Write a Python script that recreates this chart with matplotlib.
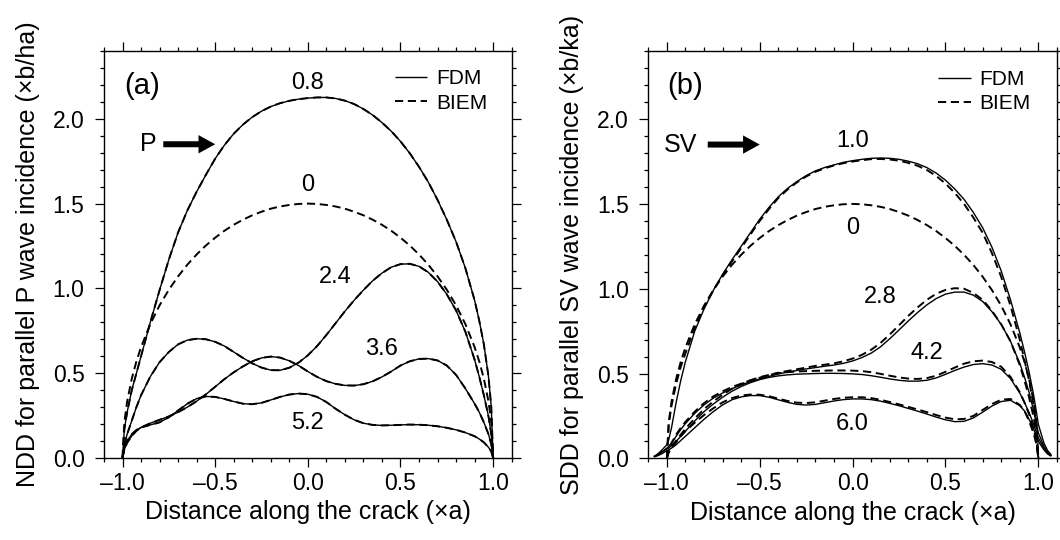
"""Crack opening displacement: FDM vs BIEM for parallel P and SV incidence."""

import matplotlib

matplotlib.use("Agg")
import matplotlib.pyplot as plt
from matplotlib.ticker import MultipleLocator, FuncFormatter

plt.rcParams["font.family"] = ["Liberation Sans", "DejaVu Sans"]

# --- data -------------------------------------------------------------------
X_GRID = [-1.0, -0.99, -0.975, -0.95, -0.925,
          -0.9, -0.85, -0.8, -0.75, -0.7, -0.65, -0.6, -0.55, -0.5,
          -0.45, -0.4, -0.35, -0.3, -0.25, -0.2, -0.15, -0.1, -0.05,
          0.0, 0.05, 0.1, 0.15, 0.2, 0.25, 0.3, 0.35, 0.4,
          0.45, 0.5, 0.55, 0.6, 0.65, 0.7, 0.75, 0.8, 0.85,
          0.9, 0.925, 0.95, 0.975, 0.99, 1.0]
# FDM in (b) smears a little past the crack tips
X_FDM = [-1.07, -1.05, -1.03] + X_GRID + [1.03, 1.05, 1.07]

# static solution (label "0"), same in both panels, BIEM only
STATIC = [0.0, 0.212, 0.333, 0.468, 0.570,
          0.654, 0.790, 0.900, 0.992, 1.071, 1.140, 1.200, 1.253, 1.299,
          1.340, 1.375, 1.405, 1.431, 1.452, 1.470, 1.483, 1.492, 1.498,
          1.500, 1.498, 1.492, 1.483, 1.470, 1.452, 1.431, 1.405, 1.375,
          1.340, 1.299, 1.253, 1.200, 1.140, 1.071, 0.992, 0.900, 0.790,
          0.654, 0.570, 0.468, 0.333, 0.212, 0.0]

# panel (a): FDM and BIEM coincide at this scale
A_08 = [0.0, 0.17, 0.27, 0.40, 0.50,
        0.60, 0.80, 0.99, 1.17, 1.33, 1.46, 1.57, 1.67, 1.765,
        1.845, 1.912, 1.966, 2.01, 2.045, 2.072, 2.092, 2.106, 2.116,
        2.122, 2.126, 2.126, 2.12, 2.107, 2.087, 2.058, 2.022, 1.978,
        1.927, 1.867, 1.797, 1.717, 1.627, 1.522, 1.405, 1.275, 1.12,
        0.93, 0.81, 0.67, 0.48, 0.30, 0.0]
A_24 = [0.0, 0.08, 0.14, 0.22, 0.30,
        0.37, 0.48, 0.565, 0.625, 0.67, 0.695, 0.703, 0.70, 0.685,
        0.66, 0.625, 0.59, 0.558, 0.533, 0.518, 0.517, 0.532, 0.562,
        0.605, 0.66, 0.725, 0.795, 0.865, 0.93, 0.99, 1.045, 1.09,
        1.125, 1.143, 1.145, 1.13, 1.095, 1.04, 0.965, 0.87, 0.745,
        0.58, 0.48, 0.37, 0.245, 0.14, 0.0]
A_36 = [0.0, 0.05, 0.09, 0.13, 0.16,
        0.18, 0.205, 0.225, 0.245, 0.27, 0.30, 0.335, 0.375, 0.42,
        0.465, 0.505, 0.54, 0.57, 0.59, 0.598, 0.592, 0.573, 0.545,
        0.51, 0.478, 0.453, 0.437, 0.428, 0.427, 0.435, 0.452, 0.478,
        0.51, 0.545, 0.57, 0.584, 0.586, 0.575, 0.545, 0.49, 0.41,
        0.32, 0.27, 0.21, 0.14, 0.08, 0.0]
A_52 = [0.0, 0.06, 0.10, 0.14, 0.165,
        0.18, 0.195, 0.21, 0.24, 0.28, 0.32, 0.35, 0.363, 0.36,
        0.348, 0.333, 0.32, 0.317, 0.325, 0.342, 0.36, 0.374, 0.38,
        0.376, 0.36, 0.33, 0.29, 0.255, 0.225, 0.205, 0.195, 0.192,
        0.193, 0.195, 0.197, 0.196, 0.193, 0.187, 0.178, 0.166, 0.15,
        0.128, 0.112, 0.092, 0.063, 0.038, 0.0]

# panel (b): BIEM on X_GRID, FDM on X_FDM
B_10_BIEM = [0.0, 0.20, 0.31, 0.44, 0.54,
             0.62, 0.77, 0.89, 0.99, 1.08, 1.16, 1.24, 1.32, 1.40,
             1.47, 1.535, 1.585, 1.627, 1.662, 1.69, 1.71, 1.727, 1.74,
             1.75, 1.758, 1.764, 1.765, 1.762, 1.755, 1.742, 1.725, 1.70,
             1.665, 1.62, 1.565, 1.50, 1.42, 1.33, 1.21, 1.07, 0.90,
             0.70, 0.58, 0.46, 0.31, 0.19, 0.0]
B_10_FDM = [0.01, 0.025, 0.045,
            0.08, 0.11, 0.18, 0.33, 0.46,
            0.57, 0.75, 0.88, 0.99, 1.085, 1.17, 1.25, 1.33, 1.41,
            1.48, 1.542, 1.592, 1.632, 1.667, 1.695, 1.715, 1.73, 1.745,
            1.755, 1.763, 1.769, 1.771, 1.769, 1.763, 1.752, 1.737, 1.714,
            1.682, 1.64, 1.588, 1.527, 1.45, 1.36, 1.245, 1.105, 0.935,
            0.74, 0.63, 0.51, 0.37, 0.27, 0.20,
            0.09, 0.045, 0.02]
B_28_BIEM = [0.0, 0.05, 0.09, 0.14, 0.18,
             0.215, 0.275, 0.325, 0.365, 0.395, 0.42, 0.44, 0.46, 0.475,
             0.49, 0.505, 0.515, 0.525, 0.535, 0.545, 0.552, 0.56, 0.572,
             0.588, 0.61, 0.64, 0.68, 0.73, 0.785, 0.84, 0.89, 0.935,
             0.97, 0.993, 1.003, 1.0, 0.975, 0.935, 0.87, 0.79, 0.69,
             0.55, 0.46, 0.36, 0.24, 0.14, 0.0]
B_28_FDM = [0.01, 0.02, 0.035,
            0.06, 0.07, 0.09, 0.13, 0.17,
            0.205, 0.265, 0.315, 0.355, 0.385, 0.41, 0.432, 0.452, 0.468,
            0.483, 0.497, 0.508, 0.518, 0.527, 0.535, 0.543, 0.55, 0.56,
            0.574, 0.594, 0.62, 0.657, 0.705, 0.757, 0.81, 0.86, 0.905,
            0.942, 0.968, 0.98, 0.98, 0.962, 0.925, 0.865, 0.79, 0.69,
            0.56, 0.48, 0.39, 0.28, 0.20, 0.15,
            0.07, 0.035, 0.015]
B_42_BIEM = [0.0, 0.04, 0.07, 0.105, 0.14,
             0.175, 0.235, 0.29, 0.335, 0.375, 0.41, 0.437, 0.46, 0.478,
             0.492, 0.502, 0.508, 0.512, 0.514, 0.516, 0.517, 0.518, 0.518,
             0.517, 0.514, 0.508, 0.498, 0.487, 0.477, 0.47, 0.468, 0.473,
             0.487, 0.51, 0.535, 0.558, 0.572, 0.576, 0.568, 0.54, 0.48,
             0.39, 0.33, 0.26, 0.17, 0.10, 0.0]
B_42_FDM = [0.01, 0.02, 0.035,
            0.055, 0.06, 0.075, 0.10, 0.13,
            0.16, 0.22, 0.275, 0.32, 0.36, 0.395, 0.423, 0.446, 0.464,
            0.477, 0.486, 0.492, 0.496, 0.498, 0.50, 0.501, 0.501, 0.50,
            0.498, 0.494, 0.487, 0.478, 0.468, 0.46, 0.455, 0.455, 0.46,
            0.474, 0.495, 0.518, 0.538, 0.553, 0.558, 0.55, 0.525, 0.47,
            0.385, 0.33, 0.27, 0.20, 0.15, 0.12,
            0.06, 0.03, 0.015]
B_60_BIEM = [0.0, 0.035, 0.06, 0.095, 0.13,
             0.16, 0.21, 0.255, 0.295, 0.33, 0.355, 0.37, 0.376, 0.375,
             0.366, 0.352, 0.338, 0.328, 0.326, 0.33, 0.34, 0.35, 0.357,
             0.36, 0.36, 0.355, 0.345, 0.332, 0.318, 0.303, 0.288, 0.272,
             0.255, 0.24, 0.23, 0.232, 0.25, 0.285, 0.32, 0.345, 0.35,
             0.315, 0.28, 0.22, 0.145, 0.08, 0.0]
B_60_FDM = [0.008, 0.015, 0.025,
            0.045, 0.05, 0.06, 0.08, 0.105,
            0.13, 0.18, 0.23, 0.275, 0.315, 0.345, 0.362, 0.37, 0.37,
            0.36, 0.345, 0.33, 0.318, 0.314, 0.318, 0.328, 0.338, 0.346,
            0.35, 0.35, 0.346, 0.337, 0.324, 0.31, 0.294, 0.278, 0.261,
            0.243, 0.227, 0.216, 0.218, 0.238, 0.272, 0.308, 0.335, 0.342,
            0.31, 0.28, 0.23, 0.17, 0.13, 0.10,
            0.05, 0.025, 0.012]

# curve labels: (text, x, y)
A_LABELS = [("0.8", 0.0, 2.21), ("0", 0.0, 1.61), ("2.4", 0.15, 1.07),
            ("3.6", 0.40, 0.645), ("5.2", 0.0, 0.205)]
B_LABELS = [("1.0", 0.0, 1.87), ("0", 0.0, 1.36), ("2.8", 0.15, 0.95),
            ("4.2", 0.40, 0.62), ("6.0", 0.0, 0.205)]

XLABEL = "Distance along the crack (×a)"
A_YLABEL = "NDD for parallel P wave incidence (×b/ha)"
B_YLABEL = "SDD for parallel SV wave incidence (×b/ka)"

SOLID = dict(color="black", lw=1.0, solid_capstyle="butt")
DASHED = dict(color="black", lw=1.4, dashes=(4.2, 2.4))


def dash_fmt(v, _pos):
    # en dash for negatives, like the original typesetting
    s = f"{abs(v):.1f}"
    return "\u2013" + s if v < -1e-9 else s


def style_axes(ax, ylabel):
    ax.set_xlim(-1.1, 1.1)
    ax.set_ylim(0.0, 2.4)
    ax.xaxis.set_major_locator(MultipleLocator(0.5))
    ax.xaxis.set_minor_locator(MultipleLocator(0.1))
    ax.yaxis.set_major_locator(MultipleLocator(0.5))
    ax.yaxis.set_minor_locator(MultipleLocator(0.1))
    ax.xaxis.set_major_formatter(FuncFormatter(dash_fmt))
    ax.yaxis.set_major_formatter(FuncFormatter(dash_fmt))
    ax.tick_params(which="both", direction="out", top=True, right=True,
                   width=0.9, labelsize=16.5)
    ax.tick_params(which="major", length=6.5)
    ax.tick_params(which="minor", length=3)
    ax.tick_params(axis="x", which="major", pad=3.5)
    ax.tick_params(axis="y", which="major", pad=7.5)
    for sp in ax.spines.values():
        sp.set_linewidth(1.0)
    ax.set_xlabel(XLABEL, fontsize=18, labelpad=4)
    ax.set_ylabel(ylabel, fontsize=18, labelpad=9)


def add_legend(ax, h_fdm, h_biem, anchor):
    ax.legend([h_fdm, h_biem], ["FDM", "BIEM"], loc="upper right",
              bbox_to_anchor=anchor, frameon=False, fontsize=15,
              handlelength=1.55, handletextpad=0.4, labelspacing=0.25,
              borderaxespad=0.0)


def add_arrow(ax, text, tx, x0, x1, y):
    ax.text(tx, y, text, fontsize=18, ha="center", va="center")
    ax.annotate("", xy=(x1, y), xytext=(x0, y),
                arrowprops=dict(arrowstyle="simple,head_length=1.0,head_width=1.1,tail_width=0.36",
                                mutation_scale=12, fc="black", ec="none",
                                shrinkA=0, shrinkB=0))


def main():
    fig = plt.figure(figsize=(10.6, 5.4), dpi=100)
    ax_a = fig.add_axes([0.0981, 0.1519, 0.3846, 0.7537])
    ax_b = fig.add_axes([0.6116, 0.1513, 0.3855, 0.7537])

    # --- (a) P incidence ---
    for ys in (A_08, A_24, A_36, A_52):
        h_fdm, = ax_a.plot(X_GRID, ys, **SOLID)
    for ys in (STATIC, A_08, A_24, A_36, A_52):
        h_biem, = ax_a.plot(X_GRID, ys, **DASHED)
    for txt, x, y in A_LABELS:
        ax_a.text(x, y, txt, fontsize=17, ha="center", va="center")
    ax_a.text(-0.895, 2.195, "(a)", fontsize=21, ha="center", va="center")
    add_arrow(ax_a, "P", -0.86, -0.78, -0.50, 1.85)
    add_legend(ax_a, h_fdm, h_biem, (0.96, 0.975))
    style_axes(ax_a, A_YLABEL)

    # --- (b) SV incidence ---
    for ys in (B_10_FDM, B_28_FDM, B_42_FDM, B_60_FDM):
        h_fdm, = ax_b.plot(X_FDM, ys, **SOLID)
    for ys in (STATIC, B_10_BIEM, B_28_BIEM, B_42_BIEM, B_60_BIEM):
        h_biem, = ax_b.plot(X_GRID, ys, **DASHED)
    for txt, x, y in B_LABELS:
        ax_b.text(x, y, txt, fontsize=17, ha="center", va="center")
    ax_b.text(-0.9, 2.195, "(b)", fontsize=21, ha="center", va="center")
    add_arrow(ax_b, "SV", -0.925, -0.78, -0.50, 1.85)
    add_legend(ax_b, h_fdm, h_biem, (0.955, 0.975))
    style_axes(ax_b, B_YLABEL)

    fig.savefig("out.png", dpi=100)
    plt.close(fig)


if __name__ == "__main__":
    main()
